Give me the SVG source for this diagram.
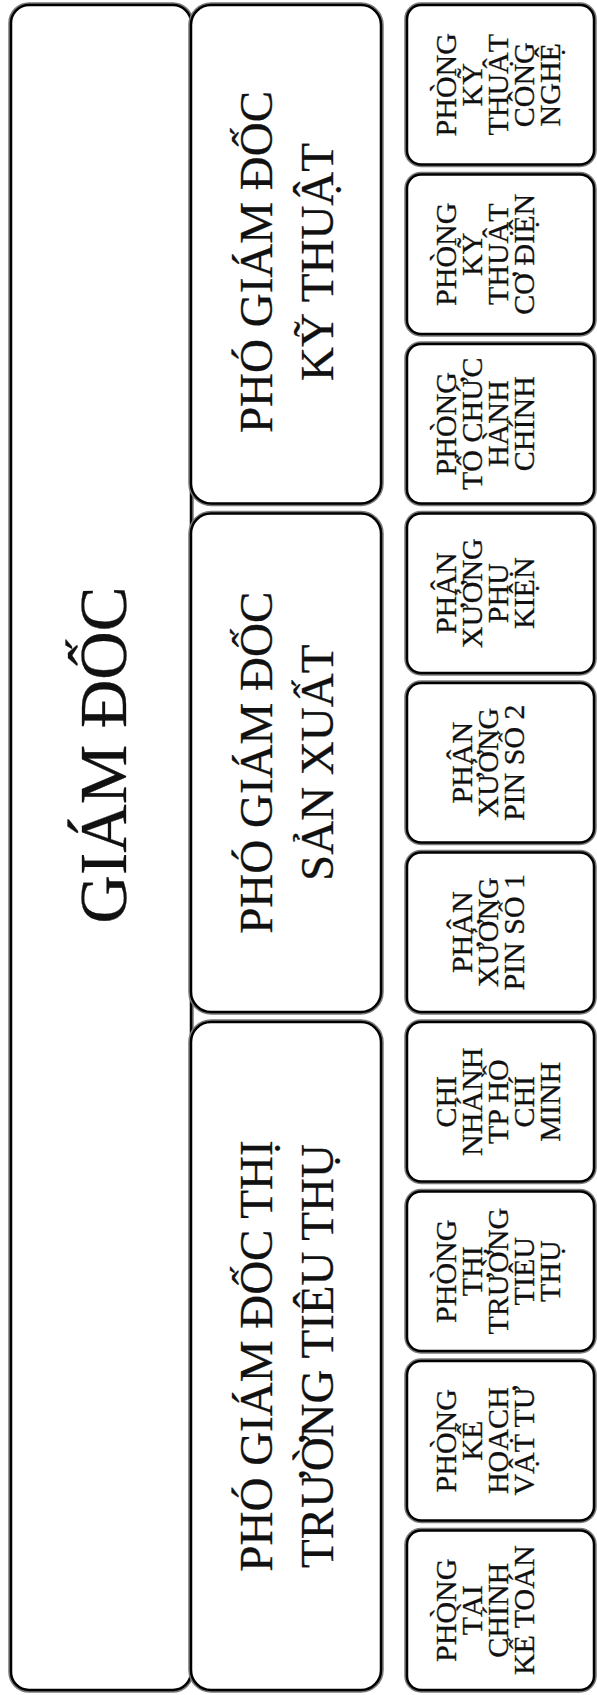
<svg xmlns="http://www.w3.org/2000/svg" width="597" height="1695" viewBox="0 0 597 1695">
<style>
.sh{fill:none;stroke:#7a7a7a;stroke-width:5.5}
.bx{fill:#fff;stroke:#000;stroke-width:2.5}
text{font-family:"Liberation Serif","Times New Roman",serif;fill:#111;text-anchor:middle;stroke:#111;stroke-width:0.3}
.t0{font-size:67px}
.t1{font-size:47px}
.t2{font-size:30px}
</style>
<rect width="597" height="1695" fill="#fff"/>
<g id="giam-doc">
<rect class="sh" x="11" y="5" width="180" height="1685" rx="18"/>
<rect class="bx" x="11" y="5" width="180" height="1685" rx="18"/>
<text class="t0" transform="translate(101,755) rotate(-90)" y="25">GIÁM ĐỐC</text>
</g>
<g id="connectors"></g>
<g id="pgd-ky-thuat">
<rect class="sh" x="191" y="5" width="190" height="498.5" rx="20"/>
<rect class="bx" x="191" y="5" width="190" height="498.5" rx="20"/>
<text class="t1" transform="translate(286.5,262) rotate(-90)"><tspan x="0" y="-14.5">PHÓ GIÁM ĐỐC</tspan><tspan x="0" y="46.5">KỸ THUẬT</tspan></text>
</g>
<g id="pgd-san-xuat">
<rect class="sh" x="191" y="513.5" width="190" height="498.5" rx="20"/>
<rect class="bx" x="191" y="513.5" width="190" height="498.5" rx="20"/>
<text class="t1" transform="translate(286.5,762.75) rotate(-90)"><tspan x="0" y="-14.5">PHÓ GIÁM ĐỐC</tspan><tspan x="0" y="46.5">SẢN XUẤT</tspan></text>
</g>
<g id="pgd-thi-truong">
<rect class="sh" x="191" y="1022" width="190" height="668" rx="20"/>
<rect class="bx" x="191" y="1022" width="190" height="668" rx="20"/>
<text class="t1" transform="translate(286.5,1356) rotate(-90)"><tspan x="0" y="-14.5">PHÓ GIÁM ĐỐC THỊ</tspan><tspan x="0" y="46.5">TRƯỜNG TIÊU THỤ</tspan></text>
</g>
<g id="p-ky-thuat-cong-nghe">
<rect class="sh" x="407" y="5" width="187" height="159.5" rx="14"/>
<rect class="bx" x="407" y="5" width="187" height="159.5" rx="14"/>
<text class="t2" transform="translate(500,84.75) rotate(-90)"><tspan x="0" y="-44">PHÒNG</tspan><tspan x="0" y="-18">KỸ</tspan><tspan x="0" y="8">THUẬT</tspan><tspan x="0" y="34">CÔNG</tspan><tspan x="0" y="60">NGHỆ</tspan></text>
</g>
<g id="p-ky-thuat-co-dien">
<rect class="sh" x="407" y="174.5" width="187" height="159.5" rx="14"/>
<rect class="bx" x="407" y="174.5" width="187" height="159.5" rx="14"/>
<text class="t2" transform="translate(500,254.25) rotate(-90)"><tspan x="0" y="-44">PHÒNG</tspan><tspan x="0" y="-18">KỸ</tspan><tspan x="0" y="8">THUẬT</tspan><tspan x="0" y="34">CƠ ĐIỆN</tspan></text>
</g>
<g id="p-to-chuc-hanh-chinh">
<rect class="sh" x="407" y="344" width="187" height="159.5" rx="14"/>
<rect class="bx" x="407" y="344" width="187" height="159.5" rx="14"/>
<text class="t2" transform="translate(500,423.75) rotate(-90)"><tspan x="0" y="-44">PHÒNG</tspan><tspan x="0" y="-18">TỔ CHỨC</tspan><tspan x="0" y="8">HÀNH</tspan><tspan x="0" y="34">CHÍNH</tspan></text>
</g>
<g id="px-phu-kien">
<rect class="sh" x="407" y="513.5" width="187" height="159.5" rx="14"/>
<rect class="bx" x="407" y="513.5" width="187" height="159.5" rx="14"/>
<text class="t2" transform="translate(500,593.25) rotate(-90)"><tspan x="0" y="-44">PHÂN</tspan><tspan x="0" y="-18">XƯỞNG</tspan><tspan x="0" y="8">PHỤ</tspan><tspan x="0" y="34">KIỆN</tspan></text>
</g>
<g id="px-pin-so-2">
<rect class="sh" x="407" y="683" width="187" height="159.5" rx="14"/>
<rect class="bx" x="407" y="683" width="187" height="159.5" rx="14"/>
<text class="t2" transform="translate(500,762.75) rotate(-90)"><tspan x="0" y="-28">PHÂN</tspan><tspan x="0" y="-2">XƯỞNG</tspan><tspan x="0" y="24">PIN SỐ 2</tspan></text>
</g>
<g id="px-pin-so-1">
<rect class="sh" x="407" y="852.5" width="187" height="159.5" rx="14"/>
<rect class="bx" x="407" y="852.5" width="187" height="159.5" rx="14"/>
<text class="t2" transform="translate(500,932.25) rotate(-90)"><tspan x="0" y="-28">PHÂN</tspan><tspan x="0" y="-2">XƯỞNG</tspan><tspan x="0" y="24">PIN SỐ 1</tspan></text>
</g>
<g id="cn-hcm">
<rect class="sh" x="407" y="1022" width="187" height="159.5" rx="14"/>
<rect class="bx" x="407" y="1022" width="187" height="159.5" rx="14"/>
<text class="t2" transform="translate(500,1101.75) rotate(-90)"><tspan x="0" y="-44">CHI</tspan><tspan x="0" y="-18">NHÁNH</tspan><tspan x="0" y="8">TP HỒ</tspan><tspan x="0" y="34">CHÍ</tspan><tspan x="0" y="60">MINH</tspan></text>
</g>
<g id="p-thi-truong">
<rect class="sh" x="407" y="1191.5" width="187" height="159.5" rx="14"/>
<rect class="bx" x="407" y="1191.5" width="187" height="159.5" rx="14"/>
<text class="t2" transform="translate(500,1271.25) rotate(-90)"><tspan x="0" y="-44">PHÒNG</tspan><tspan x="0" y="-18">THỊ</tspan><tspan x="0" y="8">TRƯỜNG</tspan><tspan x="0" y="34">TIÊU</tspan><tspan x="0" y="60">THỤ</tspan></text>
</g>
<g id="p-ke-hoach">
<rect class="sh" x="407" y="1361" width="187" height="159.5" rx="14"/>
<rect class="bx" x="407" y="1361" width="187" height="159.5" rx="14"/>
<text class="t2" transform="translate(500,1440.75) rotate(-90)"><tspan x="0" y="-44">PHÒNG</tspan><tspan x="0" y="-18">KẾ</tspan><tspan x="0" y="8">HOẠCH</tspan><tspan x="0" y="34">VẬT TƯ</tspan></text>
</g>
<g id="p-tai-chinh">
<rect class="sh" x="407" y="1530.5" width="187" height="159.5" rx="14"/>
<rect class="bx" x="407" y="1530.5" width="187" height="159.5" rx="14"/>
<text class="t2" transform="translate(500,1610.25) rotate(-90)"><tspan x="0" y="-44">PHÒNG</tspan><tspan x="0" y="-18">TÀI</tspan><tspan x="0" y="8">CHÍNH</tspan><tspan x="0" y="34">KẾ TOÁN</tspan></text>
</g>
</svg>
